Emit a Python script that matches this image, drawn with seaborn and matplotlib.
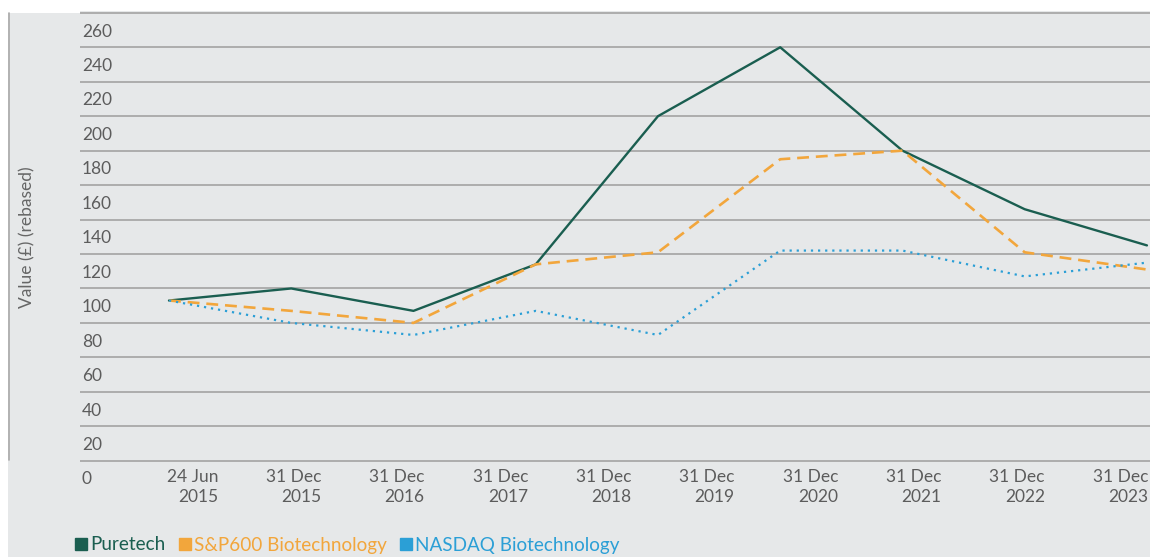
import numpy as np
import pandas as pd
import matplotlib
matplotlib.use("Agg")
import matplotlib.pyplot as plt
from matplotlib.lines import Line2D
from matplotlib.patches import Rectangle
import seaborn as sns

# ---- data ----
periods = list(range(9))
puretech = [103, 110, 97, 124, 210, 250, 190, 156, 135]
sp600 = [103, 97, 90, 124, 131, 185, 190, 131, 121]
nasdaq = [103, 90, 83, 97, 83, 132, 132, 117, 125]
series_names = ["Puretech", "S&P600 Biotechnology", "NASDAQ Biotechnology"]
tick_labels = ["24 Jun\n2015", "31 Dec\n2015", "31 Dec\n2016", "31 Dec\n2017",
               "31 Dec\n2018", "31 Dec\n2019", "31 Dec\n2020", "31 Dec\n2021",
               "31 Dec\n2022", "31 Dec\n2023"]
y_ticks = list(range(0, 261, 20))
y_label = "Value (£) (rebased)"

# ---- styles ----
colors = ["#1a5e50", "#f2a63c", "#2b9fd6"]
bg = "#e6e8e9"
grid_c = "#9d9d9d"
text_c = "#5c5c5c"

sns.set_style("white")
plt.rcParams['font.family'] = ['Lato', 'DejaVu Sans']

W, H = 1150, 557
fig = plt.figure(figsize=(W / 100, H / 100), dpi=100, facecolor="white")
fig.patches.append(Rectangle((8 / W, 0), 1 - 8 / W, 1 - 13 / H, transform=fig.transFigure,
                             facecolor=bg, edgecolor="none", zorder=-10))
fig.add_artist(Line2D([8.5 / W, 8.5 / W], [1 - 13 / H, 1 - 460 / H], transform=fig.transFigure,
                      color="#a9a9a9", lw=1.2))

ax = fig.add_axes([80 / W, 1 - 479.7 / H, 1 - 80 / W, (479.7 - 11.1) / H])
ax.set_facecolor(bg)

df = pd.DataFrame({
    "period": periods * 3,
    "value": puretech + sp600 + nasdaq,
    "series": np.repeat(series_names, len(periods)),
})
sns.lineplot(data=df, x="period", y="value", hue="series", style="series",
             hue_order=series_names, style_order=series_names,
             palette=dict(zip(series_names, colors)),
             dashes={series_names[0]: "", series_names[1]: (4.5, 2.6), series_names[2]: (1, 2.2)},
             linewidth=1.7, legend=False, ax=ax, zorder=3)
for ln, lw in zip(ax.lines, [1.7, 1.9, 1.6]):
    ln.set_linewidth(lw)

ax.set_xlim(-0.728, 8.025)
ax.set_ylim(-1, 271)
for s in ax.spines.values():
    s.set_visible(False)

ax.set_yticks(y_ticks)
ax.set_yticklabels([str(v) for v in y_ticks], ha="left")
ax.set_yticks(np.arange(10, 271, 20), minor=True)
ax.grid(False)
ax.yaxis.grid(True, which="minor", color=grid_c, lw=1.1)
ax.set_axisbelow(True)
ax.tick_params(axis="y", which="both", length=0)
ax.tick_params(axis="y", which="major", pad=-1.44, labelsize=12.5, labelcolor=text_c)

xpos = [0.401 + 0.8454 * i for i in range(len(tick_labels))]
ax.set_xticks(xpos)
ax.set_xticklabels(tick_labels, ha="right", multialignment="right", linespacing=1.3)
ax.tick_params(axis="x", length=0, pad=-7.7, labelsize=12.5, labelcolor=text_c)
ax.set_xlabel("")
ax.set_ylabel("")

fig.text(27 / W, 1 - 237 / H, y_label, rotation=90, va="center", ha="center",
         fontsize=12.5, color="#666666")

handles = [Line2D([], [], marker="s", linestyle="none", color=c, markersize=8) for c in colors]
leg = fig.legend(handles, series_names, loc="center left", bbox_to_anchor=(76 / W, 1 - 545 / H),
                 ncol=3, frameon=False, fontsize=13.6, handlelength=0.55, handletextpad=0.2,
                 columnspacing=0.75, borderpad=0, borderaxespad=0)
for t, c in zip(leg.get_texts(), colors):
    t.set_color(c)

fig.savefig("out.png", dpi=100, facecolor=fig.get_facecolor())
